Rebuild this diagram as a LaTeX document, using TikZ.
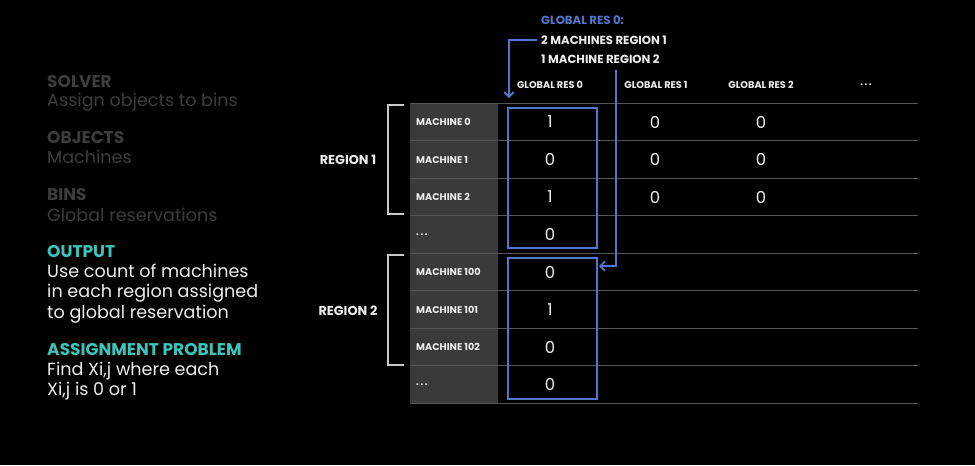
\documentclass[tikz,border=0pt]{standalone}
\usepackage{fontspec}
\setmainfont{Poppins}
\usetikzlibrary{arrows.meta,calc}
\definecolor{resblue}{HTML}{5176CB}
\definecolor{tealtxt}{HTML}{3CC4BA}
\definecolor{dimtxt}{HTML}{3C3C3C}
\definecolor{cellgrey}{HTML}{3A3A3A}
\definecolor{rowline}{HTML}{555555}
\definecolor{lighttxt}{HTML}{EDEDED}
\tikzset{
  dimhead/.style={anchor=base west, inner sep=0pt, text=dimtxt, font=\fontsize{14.5}{16}\selectfont\bfseries},
  dimbody/.style={anchor=base west, inner sep=0pt, text=dimtxt, font=\fontsize{15}{17}\selectfont},
  tealhead/.style={anchor=base west, inner sep=0pt, text=tealtxt, font=\fontsize{14.5}{16}\selectfont\bfseries},
  litebody/.style={anchor=base west, inner sep=0pt, text=lighttxt, font=\fontsize{15}{17}\selectfont},
  smalllab/.style={text=lighttxt, font=\fontsize{8.3}{10}\selectfont\bfseries},
  notelab/.style={anchor=west, inner sep=0pt, font=\fontsize{10}{12}\selectfont\bfseries},
  cellval/.style={text=lighttxt, font=\fontsize{14}{16}\selectfont},
  conn/.style={resblue, line width=1.6pt, -{Straight Barb[length=4pt,width=8pt]}},
  bracket/.style={draw=lighttxt!85!black, line width=1.4pt}
}
\begin{document}
\begin{tikzpicture}[x=0.03cm,y=-0.03cm]
\fill[black] (0,0) rectangle (975,465);

% left column
\node[dimhead]  (solver)  at (47,87)  {SOLVER};
\node[dimbody]  (solvert) at (47,106) {Assign objects to bins};
\node[dimhead]  (objects) at (47,143) {OBJECTS};
\node[dimbody]  (objectt) at (47,163) {Machines};
\node[dimhead]  (bins)    at (47,200) {BINS};
\node[dimbody]  (binst)   at (47,221) {Global reservations};
\node[tealhead] (output)  at (47,257) {OUTPUT};
\node[litebody] (out1)    at (47,277) {Use count of machines};
\node[litebody] (out2)    at (47,297) {in each region assigned};
\node[litebody] (out3)    at (47,318) {to global reservation};
\node[tealhead] (assign)  at (47,355) {ASSIGNMENT PROBLEM};
\node[litebody] (asg1)    at (47,375) {Find Xi,j where each};
\node[litebody] (asg2)    at (47,395) {Xi,j is 0 or 1};

% table
\fill[cellgrey] (410,103) rectangle (498,403);
\foreach \r in {0,...,8}
  \draw[rowline, line width=0.8pt] (410,103+37.5*\r) -- (918,103+37.5*\r);
\foreach \lab [count=\i from 0] in {MACHINE 0,MACHINE 1,MACHINE 2,.\,.\,.,MACHINE 100,MACHINE 101,MACHINE 102,.\,.\,.}
  \node[smalllab, anchor=west, inner sep=0pt] (m\i) at (416,122+37.5*\i) {\lab};
\foreach \v [count=\i from 0] in {1,0,1,0,0,1,0,0}
  \node[cellval] (v0-\i) at (550,122+37.5*\i) {\v};
\foreach \c/\x in {1/655,2/761}
  \foreach \i in {0,1,2}
    \node[cellval] (v\c-\i) at (\x,122+37.5*\i) {0};
\foreach \t/\x [count=\c from 0] in {GLOBAL RES 0/550,GLOBAL RES 1/656,GLOBAL RES 2/761,.\,.\,./866}
  \node[smalllab] (g\c) at (\x,85) {\t};

% regions
\draw[bracket] (404,105) -- (388,105) -- (388,214) -- (404,214);
\draw[bracket] (404,255) -- (388,255) -- (388,365) -- (404,365);
\node[smalllab, font=\fontsize{11}{13}\selectfont\bfseries] (reg1) at (348,160) {REGION 1};
\node[smalllab, font=\fontsize{11}{13}\selectfont\bfseries] (reg2) at (348,311) {REGION 2};

% global res 0 boxes
\coordinate (b0nw) at (508,108); \coordinate (b0se) at (597,248);
\coordinate (b1nw) at (508,258); \coordinate (b1se) at (597,399);
\draw[resblue, line width=1.6pt] (b0nw) rectangle (b0se);
\draw[resblue, line width=1.6pt] (b1nw) rectangle (b1se);

% note
\node[notelab, text=resblue]   (n0) at (541,20) {GLOBAL RES 0:};
\node[notelab, text=lighttxt]  (n1) at (541,40) {2 MACHINES REGION 1};
\node[notelab, text=lighttxt]  (n2) at (541,59) {1 MACHINE REGION 2};
\coordinate (tap) at (616,70);
\draw[conn] ([xshift=-3pt]n1.west) -| ($(b0nw)+(1,-10)$);
\draw[conn] (tap) |- ($(b1se|-b1nw)+(2,8)$);
\end{tikzpicture}
\end{document}
